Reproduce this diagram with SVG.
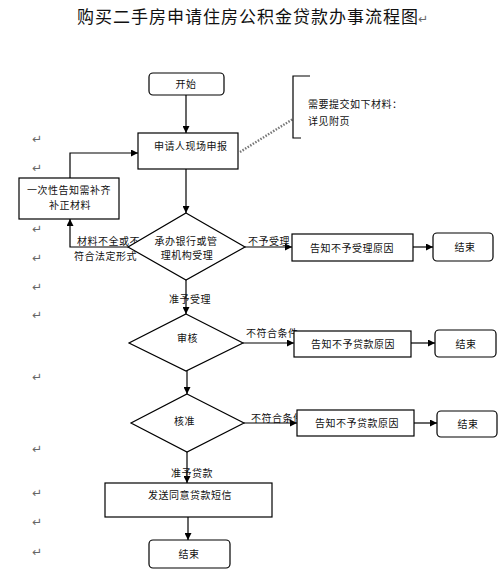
<svg xmlns="http://www.w3.org/2000/svg" width="504" height="576" viewBox="0 0 504 576">
<style>
text{font-family:"Noto Sans CJK SC","Liberation Sans",sans-serif;font-size:10px;fill:#111;letter-spacing:0.5px}
.title{font-size:17px;letter-spacing:1px}
.box{fill:#fff;stroke:#000;stroke-width:1.2}
.ln{fill:none;stroke:#000;stroke-width:1.2}
.mk{fill:#666;font-size:12px;font-family:"DejaVu Sans",sans-serif;letter-spacing:0}
.c{text-anchor:middle}
</style>
<defs>
<marker id="ah" viewBox="0 0 10 10" refX="10" refY="5" markerWidth="7" markerHeight="7" markerUnits="userSpaceOnUse" orient="auto">
<path d="M0,0L10,5L0,10z" fill="#000"/>
</marker>
</defs>
<rect width="504" height="576" fill="#fff"/>
<text class="title" x="77" y="23">购买二手房申请住房公积金贷款办事流程图</text>
<text class="mk" x="418" y="23">↵</text>
<g id="margin-marks">
<text class="mk" x="32" y="143">↵</text>
<text class="mk" x="32" y="172">↵</text>
<text class="mk" x="32" y="233">↵</text>
<text class="mk" x="32" y="262">↵</text>
<text class="mk" x="32" y="291">↵</text>
<text class="mk" x="32" y="319">↵</text>
<text class="mk" x="32" y="381">↵</text>
<text class="mk" x="32" y="453">↵</text>
<text class="mk" x="32" y="497">↵</text>
<text class="mk" x="32" y="526">↵</text>
<text class="mk" x="32" y="556">↵</text>
</g>
<g id="connectors">
<line class="ln" x1="186" y1="95" x2="186" y2="133" marker-end="url(#ah)"/>
<line x1="240" y1="152" x2="293" y2="119" stroke="#777" stroke-width="2.4" stroke-dasharray="1.5 1.5"/>
<line class="ln" x1="186" y1="169" x2="186" y2="213" marker-end="url(#ah)"/>
<polyline class="ln" points="70,178 70,153 138,153" marker-end="url(#ah)"/>
<polyline class="ln" points="128,247 70,247 70,219" marker-end="url(#ah)"/>
<line class="ln" x1="245" y1="247" x2="292" y2="247" marker-end="url(#ah)"/>
<line class="ln" x1="413" y1="247" x2="433" y2="247" marker-end="url(#ah)"/>
<line class="ln" x1="186" y1="280" x2="186" y2="314" marker-end="url(#ah)"/>
<line class="ln" x1="243" y1="343" x2="294" y2="343" marker-end="url(#ah)"/>
<line class="ln" x1="411" y1="343" x2="435" y2="343" marker-end="url(#ah)"/>
<line class="ln" x1="187" y1="371" x2="187" y2="394" marker-end="url(#ah)"/>
<line class="ln" x1="244" y1="423" x2="297" y2="423" marker-end="url(#ah)"/>
<line class="ln" x1="414" y1="423" x2="437" y2="423" marker-end="url(#ah)"/>
<line class="ln" x1="187" y1="452" x2="187" y2="483" marker-end="url(#ah)"/>
<line class="ln" x1="188" y1="517" x2="188" y2="540" marker-end="url(#ah)"/>
</g>
<g id="labels">
<text x="77" y="245">材料不全或不</text>
<text x="74" y="260">符合法定形式</text>
<text x="248" y="245">不予受理</text>
<text x="169" y="303">准予受理</text>
<text x="246" y="337">不符合条件</text>
<text x="251" y="422">不符合条件</text>
<text x="171" y="477">准予贷款</text>
</g>
<g id="start">
<rect class="box" x="149" y="73" width="75" height="22" rx="4"/>
<text class="c" x="186" y="88">开始</text>
</g>
<g id="apply">
<rect class="box" x="138" y="133" width="100" height="36"/>
<text x="154" y="150">申请人现场申报</text>
</g>
<g id="materials-note">
<polyline class="ln" points="310,76 293,76 293,138 301,138" stroke="#333"/>
<text x="308" y="108">需要提交如下材料：</text>
<text x="308" y="125">详见附页</text>
</g>
<g id="supplement">
<rect class="box" x="19" y="178" width="100" height="41"/>
<text class="c" x="69" y="194">一次性告知需补齐</text>
<text class="c" x="70" y="209">补正材料</text>
</g>
<g id="accept">
<polygon class="box" points="186,213 245,247 186,280 128,247"/>
<text class="c" x="186" y="245">承办银行或管</text>
<text class="c" x="187" y="259">理机构受理</text>
</g>
<g id="reject-accept">
<rect class="box" x="292" y="234" width="121" height="27"/>
<text class="c" x="352" y="252">告知不予受理原因</text>
</g>
<g id="end1">
<rect class="box" x="433" y="233" width="60" height="28" rx="4"/>
<text class="c" x="465" y="251">结束</text>
</g>
<g id="review">
<polygon class="box" points="186,314 243,343 186,371 129,343"/>
<text x="177" y="342">审核</text>
</g>
<g id="reject-review">
<rect class="box" x="294" y="331" width="117" height="26"/>
<text class="c" x="353" y="348">告知不予贷款原因</text>
</g>
<g id="end2">
<rect class="box" x="435" y="330" width="61" height="27" rx="4"/>
<text class="c" x="466" y="348">结束</text>
</g>
<g id="approve">
<polygon class="box" points="187,394 244,423 187,452 131,423"/>
<text x="174" y="425">核准</text>
</g>
<g id="reject-approve">
<rect class="box" x="297" y="410" width="117" height="26"/>
<text class="c" x="357" y="427">告知不予贷款原因</text>
</g>
<g id="end3">
<rect class="box" x="437" y="411" width="60" height="26" rx="4"/>
<text class="c" x="468" y="428">结束</text>
</g>
<g id="sms">
<rect class="box" x="105" y="483" width="167" height="34"/>
<text x="148" y="499">发送同意贷款短信</text>
</g>
<g id="end4">
<rect class="box" x="149" y="540" width="81" height="28" rx="4"/>
<text class="c" x="189" y="558">结束</text>
</g>
</svg>
